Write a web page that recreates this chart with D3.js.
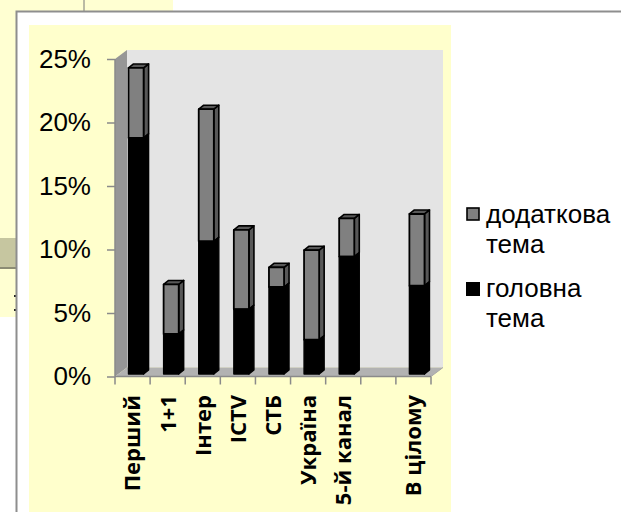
<!DOCTYPE html>
<html><head><meta charset="utf-8">
<script src="https://cdn.jsdelivr.net/npm/d3@7"></script>
<style>html,body{margin:0;padding:0;background:#fff;overflow:hidden}svg{display:block}</style>
</head><body><div id="c"></div>
<script>
const categories = ["Перший","1+1","Інтер","ICTV","СТБ","Україна","5-й канал"," ","В цілому"];
const mainTopic = [18.6,3.15,10.45,5.1,6.85,2.7,9.25,null,6.95];
const extraTopic = [5.5,3.9,10.4,6.25,1.55,7.05,3.0,null,5.65];
const yTicks = [0,5,10,15,20,25];
const legendMain = ["головна","тема"];
const legendExtra = ["додаткова","тема"];

const W=621,H=512;
const svg=d3.select("#c").append("svg").attr("width",W).attr("height",H);
const sans="'Liberation Sans',Arial,sans-serif";

// background slide fragments
svg.append("rect").attr("x",0).attr("y",0).attr("width",173).attr("height",317).attr("fill","#ffffd2");
svg.append("rect").attr("x",0).attr("y",238).attr("width",16).attr("height",30).attr("fill","#c6c6a0");
svg.append("rect").attr("x",0).attr("y",267).attr("width",16).attr("height",2).attr("fill","#8c8c74");
svg.append("line").attr("x1",84).attr("x2",84).attr("y1",0).attr("y2",11).attr("stroke","#777");
[295,309].forEach(y=>svg.append("rect").attr("x",14).attr("y",y).attr("width",2).attr("height",2).attr("fill","#222"));
// frame
svg.append("rect").attr("x",16.5).attr("y",11.5).attr("width",W+20).attr("height",H+20)
  .attr("fill","#fff").attr("stroke","#8e8e8e").attr("stroke-width",2);
// chart area
svg.append("rect").attr("x",29).attr("y",25).attr("width",422).attr("height",H-25).attr("fill","#ffffcc");

const x=d3.scaleBand().domain(categories).range([115,431]).paddingInner(.57).paddingOuter(.285);
const y=d3.scaleLinear().domain([0,25]).range([376.5,59]);
const dxW=12,dyW=9;   // wall depth
const L=115,R=431;

const poly=(pts,fill,stroke,sw)=>svg.append("polygon").attr("points",pts.map(p=>p.join(",")).join(" "))
  .attr("fill",fill).attr("stroke",stroke||"none").attr("stroke-width",sw||0).attr("stroke-linejoin","round");
// back wall
poly([[L+dxW,y(25)-dyW],[R+dxW,y(25)-dyW],[R+dxW,y(0)-dyW],[L+dxW,y(0)-dyW]],"#e4e4e4");
// left wall
poly([[L,y(25)],[L+dxW,y(25)-dyW],[L+dxW,y(0)-dyW],[L,y(0)]],"#969696");
// floor
poly([[L,y(0)],[L+dxW,y(0)-dyW],[R+dxW,y(0)-dyW],[R,y(0)]],"#b2b2b2");

// bars
const sx=3.5, sy=-2.5, bx=5, by=-4;
const rows=categories.map((c,i)=>({c,m:mainTopic[i],e:extraTopic[i]})).filter(d=>d.m!=null);
rows.forEach(d=>{
  const x0=x(d.c)+sx, x1=x0+x.bandwidth();
  const yB=y(0)+sy, yM=y(d.m)+sy, yT=y(d.m+d.e)+sy;
  // extra segment
  poly([[x1,yT],[x1+bx,yT+by],[x1+bx,yM+by],[x1,yM]],"#585858","#000",1.6);
  poly([[x0,yT],[x0+bx,yT+by],[x1+bx,yT+by],[x1,yT]],"#585858","#000",1.6);
  poly([[x0,yT],[x1,yT],[x1,yM],[x0,yM]],"#808080","#000",1.8);
  // main segment
  poly([[x1,yM],[x1+bx,yM+by],[x1+bx,yB+by],[x1,yB]],"#000","#000",1.4);
  poly([[x0,yM],[x1,yM],[x1,yB],[x0,yB]],"#000","#000",1.4);
});

// axes
const yAxis=d3.axisLeft(y).tickValues(yTicks).tickSize(8).tickPadding(16).tickFormat(d=>d+"%");
const gy=svg.append("g").attr("transform",`translate(${L},0)`).call(yAxis);
gy.select(".domain").attr("stroke","#8a8a8a").attr("stroke-width",1.5).attr("d",`M0,${y(25)}V${y(0)}`);
gy.selectAll(".tick line").attr("stroke","#8a8a8a").attr("stroke-width",1.5);
gy.selectAll("text").attr("font-family",sans).attr("font-size",26).attr("fill","#000");

const xAxis=d3.axisBottom(x).tickSize(0).tickFormat("");
const gx=svg.append("g").attr("transform",`translate(0,${y(0)})`).call(xAxis);
gx.select(".domain").attr("stroke","#8a8a8a").attr("stroke-width",1.5).attr("d",`M${L},0H${R}`);
const step=x.step();
gx.selectAll(".tick line").remove();
categories.forEach((c,i)=>{
  gx.append("line").attr("x1",x(c)-x.paddingOuter()*step).attr("x2",x(c)-x.paddingOuter()*step).attr("y1",0).attr("y2",8)
    .attr("stroke","#8a8a8a").attr("stroke-width",1.5);
});
gx.append("line").attr("x1",R).attr("x2",R).attr("y1",0).attr("y2",8).attr("stroke","#8a8a8a").attr("stroke-width",1.5);
svg.append("line").attr("x1",R).attr("y1",y(0)).attr("x2",R+dxW).attr("y2",y(0)-dyW).attr("stroke","#a8a8a8");

// category labels
rows.forEach(d=>{
  svg.append("text").attr("transform",`translate(${x(d.c)+x.bandwidth()/2},395) rotate(-90)`)
    .attr("text-anchor","end").attr("dy","0.36em")
    .attr("font-family","'Open Sans',sans-serif").attr("font-weight",700).attr("font-size",22).attr("fill","#000")
    .text(d.c);
});

// legend
const lg=svg.append("g");
lg.append("rect").attr("x",467).attr("y",208).attr("width",12).attr("height",12).attr("fill","#808080").attr("stroke","#000").attr("stroke-width",1.6);
lg.append("rect").attr("x",466).attr("y",282).attr("width",14).attr("height",14).attr("fill","#000");
const lt=(s,yy)=>lg.append("text").attr("x",486).attr("y",yy).attr("font-family",sans).attr("font-size",26).attr("fill","#000").text(s);
legendExtra.forEach((s,i)=>lt(s,[223,253][i]));
legendMain.forEach((s,i)=>lt(s,[297,327][i]));
</script></body></html>
